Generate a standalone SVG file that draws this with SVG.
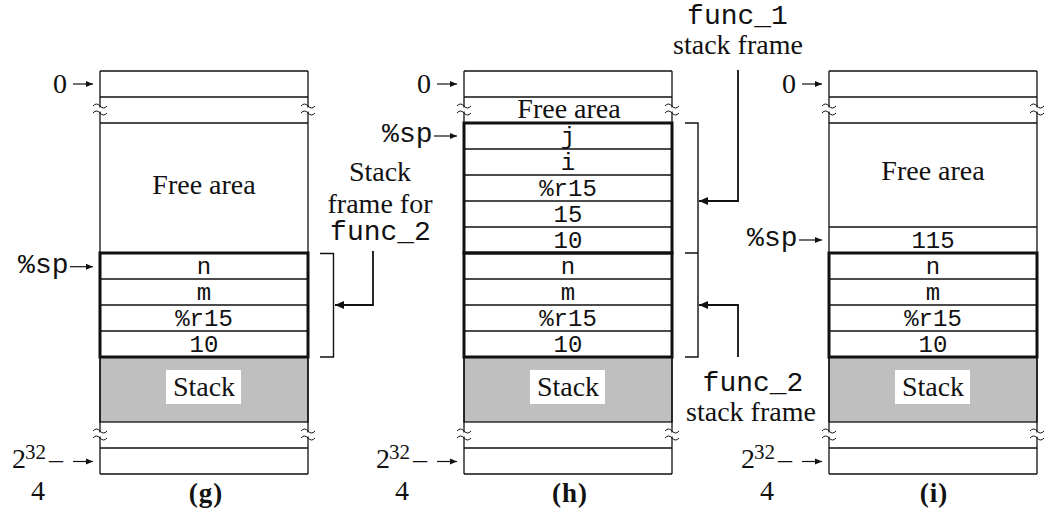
<svg xmlns="http://www.w3.org/2000/svg" width="1048" height="516" viewBox="0 0 1048 516">
<style>
  .ln{fill:none;stroke:#111;stroke-width:1.3}
  .thk{fill:none;stroke:#111;stroke-width:3}
  .stk{fill:#bfbfbf;stroke:#111;stroke-width:1.3}
  .srf{font-family:"Liberation Serif","Times New Roman",serif;font-size:28px;fill:#111}
  .mono{font-family:"Liberation Mono","Courier New",monospace;fill:#111}
  .cell{font-size:24px;text-anchor:middle}
  .big{font-size:28px}
  .mid{text-anchor:middle}
  .end{text-anchor:end}
  .cap{font-weight:bold;font-size:27px;letter-spacing:1px;text-anchor:middle}
  .sup{font-size:21px}
  .ptr{fill:none;stroke:#111;stroke-width:1.2}
  .brace{fill:none;stroke:#111;stroke-width:1.4}
  .con{fill:none;stroke:#111;stroke-width:1.8}
</style>
<defs>
  <marker id="ptrhead" markerUnits="userSpaceOnUse" viewBox="0 -4 8 8" refX="7" refY="0" markerWidth="8" markerHeight="8" orient="auto">
    <path d="M0,-3 L7,0 L0,3 z" fill="#111"/>
  </marker>
  <marker id="conhead" markerUnits="userSpaceOnUse" viewBox="0 -5 10 10" refX="9" refY="0" markerWidth="10" markerHeight="10" orient="auto">
    <path d="M0,-4 L9,0 L0,4 z" fill="#111"/>
  </marker>
  <!-- break mark drawn across a column edge -->
  <g id="brk">
    <rect x="-2.5" y="-2.5" width="5" height="4" fill="#fff"/>
    <path d="M-7,-4 q3.5,-4 7,0 t7,0 M-7,3 q3.5,-4 7,0 t7,0" fill="none" stroke="#111" stroke-width="1"/>
  </g>
</defs>
<rect width="1048" height="516" fill="#fff"/>

<!-- column (g) -->
<g id="mem-g">
  <rect class="stk" x="100" y="357" width="208" height="65"/>
  <path class="ln" d="M100,71 V474 M308,71 V474 M100,71 H308 M100,97 H308 M100,123 H308 M100,279 H308 M100,305 H308 M100,331 H308 M100,448 H308 M100,474 H308"/>
  <rect class="thk" x="100" y="253" width="208" height="104"/>
  <use href="#brk" x="100" y="110"/><use href="#brk" x="308" y="110"/>
  <use href="#brk" x="100" y="435"/><use href="#brk" x="308" y="435"/>
  <text class="srf mid" x="204" y="194">Free area</text>
  <text class="mono cell" x="204" y="273.5">n</text>
  <text class="mono cell" x="204" y="299.5">m</text>
  <text class="mono cell" x="204" y="325.5">%r15</text>
  <text class="mono cell" x="204" y="351.5">10</text>
  <rect x="166" y="370" width="75" height="34" fill="#fff"/>
  <text class="srf mid" x="204" y="396">Stack</text>
  <text class="srf mid" x="60" y="93">0</text>
  <path class="ptr" d="M73,84 H93" marker-end="url(#ptrhead)"/>
  <text class="mono big end" x="68.5" y="273">%sp</text>
  <path class="ptr" d="M70,266.7 H93" marker-end="url(#ptrhead)"/>
  <text class="srf" y="468"><tspan x="12">2</tspan><tspan class="sup" x="25" y="459">32</tspan><tspan x="49" y="468">–</tspan></text>
  <path class="ptr" d="M73,461.5 H93" marker-end="url(#ptrhead)"/>
  <text class="srf mid" x="38" y="500">4</text>
  <text class="srf cap" x="206" y="502">(g)</text>
</g>

<!-- column (h) -->
<g id="mem-h" transform="translate(364,0)">
  <rect class="stk" x="100" y="357" width="208" height="65"/>
  <path class="ln" d="M100,71 V474 M308,71 V474 M100,71 H308 M100,97 H308 M100,149 H308 M100,175 H308 M100,201 H308 M100,227 H308 M100,279 H308 M100,305 H308 M100,331 H308 M100,448 H308 M100,474 H308"/>
  <rect class="thk" x="100" y="123" width="208" height="130"/>
  <rect class="thk" x="100" y="253" width="208" height="104"/>
  <use href="#brk" x="100" y="110"/><use href="#brk" x="308" y="110"/>
  <use href="#brk" x="100" y="435"/><use href="#brk" x="308" y="435"/>
  <text class="srf mid" x="205" y="118" font-size="26">Free area</text>
  <text class="mono cell" x="204" y="143.5">j</text>
  <text class="mono cell" x="204" y="169.5">i</text>
  <text class="mono cell" x="204" y="195.5">%r15</text>
  <text class="mono cell" x="204" y="221.5">15</text>
  <text class="mono cell" x="204" y="247.5">10</text>
  <text class="mono cell" x="204" y="273.5">n</text>
  <text class="mono cell" x="204" y="299.5">m</text>
  <text class="mono cell" x="204" y="325.5">%r15</text>
  <text class="mono cell" x="204" y="351.5">10</text>
  <rect x="166" y="370" width="75" height="34" fill="#fff"/>
  <text class="srf mid" x="204" y="396">Stack</text>
  <text class="srf mid" x="60" y="93">0</text>
  <path class="ptr" d="M73,84 H93" marker-end="url(#ptrhead)"/>
  <text class="mono big end" x="68.5" y="142">%sp</text>
  <path class="ptr" d="M70,136 H93" marker-end="url(#ptrhead)"/>
  <text class="srf" y="468"><tspan x="12">2</tspan><tspan class="sup" x="25" y="459">32</tspan><tspan x="49" y="468">–</tspan></text>
  <path class="ptr" d="M73,461.5 H93" marker-end="url(#ptrhead)"/>
  <text class="srf mid" x="38" y="500">4</text>
  <text class="srf cap" x="206" y="502">(h)</text>
</g>

<!-- column (i) -->
<g id="mem-i" transform="translate(729,0)">
  <rect class="stk" x="100" y="357" width="208" height="65"/>
  <path class="ln" d="M100,71 V474 M308,71 V474 M100,71 H308 M100,97 H308 M100,123 H308 M100,227 H308 M100,279 H308 M100,305 H308 M100,331 H308 M100,448 H308 M100,474 H308"/>
  <rect class="thk" x="100" y="253" width="208" height="104"/>
  <use href="#brk" x="100" y="110"/><use href="#brk" x="308" y="110"/>
  <use href="#brk" x="100" y="435"/><use href="#brk" x="308" y="435"/>
  <text class="srf mid" x="204" y="180">Free area</text>
  <text class="mono cell" x="204" y="247.5">115</text>
  <text class="mono cell" x="204" y="273.5">n</text>
  <text class="mono cell" x="204" y="299.5">m</text>
  <text class="mono cell" x="204" y="325.5">%r15</text>
  <text class="mono cell" x="204" y="351.5">10</text>
  <rect x="166" y="370" width="75" height="34" fill="#fff"/>
  <text class="srf mid" x="204" y="396">Stack</text>
  <text class="srf mid" x="60" y="93">0</text>
  <path class="ptr" d="M73,84 H93" marker-end="url(#ptrhead)"/>
  <text class="mono big end" x="68.5" y="246">%sp</text>
  <path class="ptr" d="M70,240 H93" marker-end="url(#ptrhead)"/>
  <text class="srf" y="468"><tspan x="12">2</tspan><tspan class="sup" x="25" y="459">32</tspan><tspan x="49" y="468">–</tspan></text>
  <path class="ptr" d="M73,461.5 H93" marker-end="url(#ptrhead)"/>
  <text class="srf mid" x="38" y="500">4</text>
  <text class="srf cap" x="205" y="502">(i)</text>
</g>

<!-- frame labels -->
<g id="label-func2-g">
  <text class="srf mid" x="380" y="181">Stack</text>
  <text class="srf mid" x="380" y="213">frame for</text>
  <text class="mono big mid" x="380.5" y="240">func_2</text>
</g>
<g id="label-func1-h">
  <text class="mono big mid" x="737.5" y="24">func_1</text>
  <text class="srf mid" x="738" y="54">stack frame</text>
</g>
<g id="label-func2-h">
  <text class="mono big mid" x="753" y="391">func_2</text>
  <text class="srf mid" x="751" y="421">stack frame</text>
</g>

<!-- brackets and connectors -->
<g id="connectors">
  <path class="brace" d="M320,253.5 H333.5 V357 H320"/>
  <path class="con" d="M373,251 V305 H335" marker-end="url(#conhead)"/>
  <path class="brace" d="M685,123 H698 V357 H685 M685,253 H698"/>
  <path class="con" d="M738,70 V201 H699" marker-end="url(#conhead)"/>
  <path class="con" d="M738,357 V305 H699" marker-end="url(#conhead)"/>
</g>
</svg>
